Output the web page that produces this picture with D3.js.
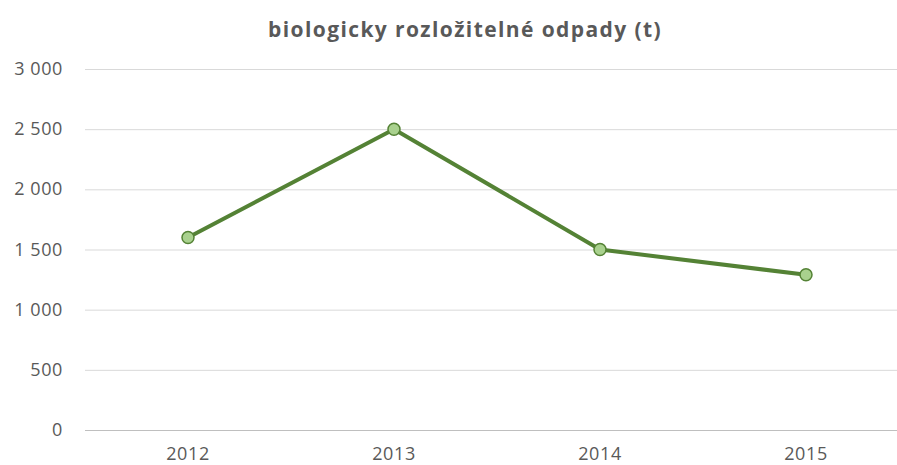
<!DOCTYPE html>
<html>
<head>
<meta charset="utf-8">
<script src="https://cdn.jsdelivr.net/npm/d3@7"></script>
<style>
  body { margin: 0; background: #fff; }
  text { font-family: "Open Sans", "DejaVu Sans", sans-serif; fill: #595959; }
</style>
</head>
<body>
<div id="chart"></div>
<script>
var years = ["2012", "2013", "2014", "2015"];
var values = [1600, 2500, 1500, 1290];
var yTicks = [0, 500, 1000, 1500, 2000, 2500, 3000];

var width = 897, height = 465;
var svg = d3.select("#chart").append("svg")
    .attr("width", width)
    .attr("height", height);

svg.append("text")
    .attr("x", 465)
    .attr("y", 37)
    .attr("text-anchor", "middle")
    .style("font-size", "21px")
    .style("font-weight", "bold")
    .style("letter-spacing", "1.4px")
    .text("biologicky rozložitelné odpady (t)");

var x = d3.scaleBand().domain(years).range([85, 909]);
var y = d3.scaleLinear().domain([0, 3000]).range([430, 69]);

// gridlines
svg.append("g")
    .selectAll("line")
    .data(yTicks)
    .enter()
    .append("line")
    .attr("x1", 85)
    .attr("x2", width)
    .attr("y1", d => y(d) + 0.5)
    .attr("y2", d => y(d) + 0.5)
    .attr("stroke", d => d === 0 ? "#bfbfbf" : "#d9d9d9")
    .attr("stroke-width", 1);

// y labels
svg.append("g")
    .selectAll("text")
    .data(yTicks)
    .enter()
    .append("text")
    .attr("x", 63)
    .attr("y", d => y(d) + 6)
    .attr("text-anchor", "end")
    .style("font-size", "18px")
    .style("letter-spacing", "0.6px")
    .text(d => d3.format(",")(d).replace(/,/g, " "));

// x labels
svg.append("g")
    .selectAll("text")
    .data(years)
    .enter()
    .append("text")
    .attr("x", d => x(d) + x.bandwidth() / 2)
    .attr("y", 460)
    .attr("text-anchor", "middle")
    .style("font-size", "18px")
    .style("letter-spacing", "0.6px")
    .text(d => d);

var data = years.map((yr, i) => ({ year: yr, value: values[i] }));

var line = d3.line()
    .x(d => x(d.year) + x.bandwidth() / 2)
    .y(d => y(d.value));

svg.append("path")
    .datum(data)
    .attr("d", line)
    .attr("fill", "none")
    .attr("stroke", "#548235")
    .attr("stroke-width", 4)
    .attr("stroke-linejoin", "round");

svg.append("g")
    .selectAll("circle")
    .data(data)
    .enter()
    .append("circle")
    .attr("cx", d => x(d.year) + x.bandwidth() / 2)
    .attr("cy", d => y(d.value))
    .attr("r", 6)
    .attr("fill", "#a9d18e")
    .attr("stroke", "#548235")
    .attr("stroke-width", 1.5);
</script>
</body>
</html>
